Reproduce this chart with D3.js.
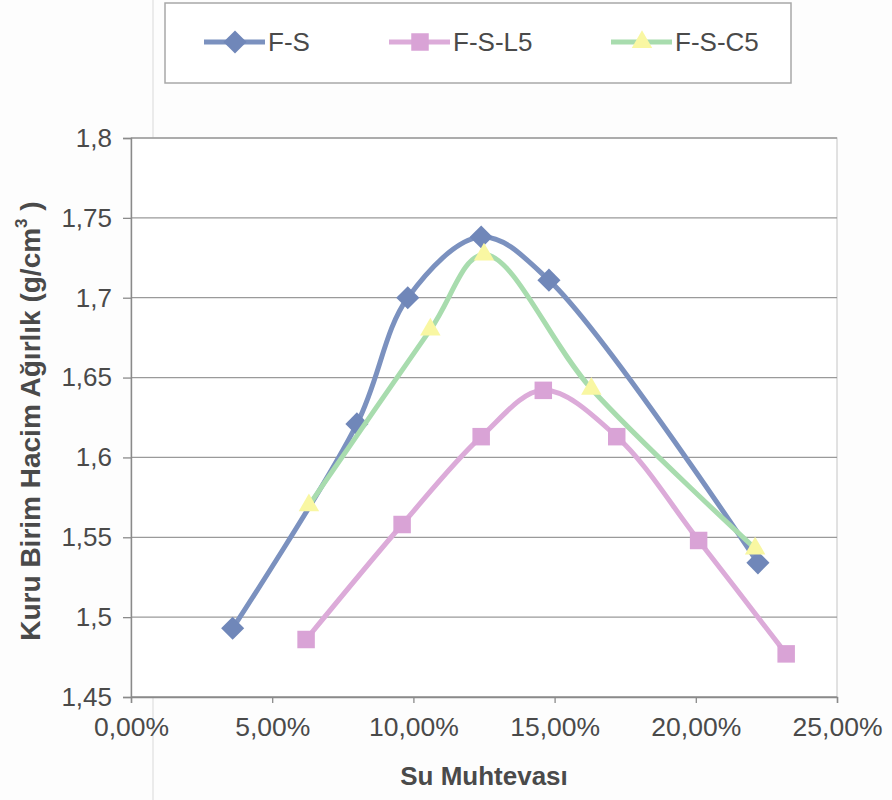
<!DOCTYPE html>
<html>
<head>
<meta charset="utf-8">
<script src="https://cdn.jsdelivr.net/npm/d3@7"></script>
<style>
  html, body { margin: 0; padding: 0; background: #fdfdfd; }
  svg { display: block; }
  text { font-family: "Liberation Sans", Arial, sans-serif; }
</style>
</head>
<body>
<svg id="chart" width="892" height="800"></svg>
<script>
// Compaction curves: dry unit weight vs. water content
const seriesNames = ["F-S", "F-S-L5", "F-S-C5"];
const fsWater   = [0.036, 0.080, 0.098, 0.124, 0.148, 0.222];
const fsDensity = [1.493, 1.621, 1.700, 1.738, 1.711, 1.534];
const l5Water   = [0.062, 0.096, 0.124, 0.146, 0.172, 0.201, 0.232];
const l5Density = [1.486, 1.558, 1.613, 1.642, 1.613, 1.548, 1.477];
const c5Water   = [0.063, 0.106, 0.125, 0.163, 0.221];
const c5Density = [1.570, 1.680, 1.727, 1.643, 1.543];
const xTicks = [0, 0.05, 0.10, 0.15, 0.20, 0.25];
const yTicks = [1.45, 1.5, 1.55, 1.6, 1.65, 1.7, 1.75, 1.8];
const xTitle = "Su Muhtevası";
const yTitle = "Kuru Birim Hacim Ağırlık (g/cm";

const styles = [
  { line: "#7b91bf", fill: "#7087b9", marker: "diamond" },
  { line: "#dcabd9", fill: "#d9a3d6", marker: "square" },
  { line: "#a8dcae", fill: "#f9f7a2", marker: "triangle" }
];

const svg = d3.select("#chart");
const plot = { left: 131, right: 837, top: 138, bottom: 697 };

const x = d3.scaleLinear().domain([0, 0.25]).range([plot.left, plot.right]);
const y = d3.scaleLinear().domain([1.45, 1.8]).range([plot.bottom, plot.top]);

const commaNum = v => String(v).replace(".", ",");
const pctFmt = v => (v * 100).toFixed(2).replace(".", ",") + "%";

// faint vertical crease across the page
svg.append("line")
  .attr("x1", 153).attr("x2", 153).attr("y1", 0).attr("y2", 800)
  .attr("stroke", "#e4e4e4").attr("stroke-width", 1.5);

// plot area
svg.append("rect")
  .attr("x", plot.left).attr("y", plot.top)
  .attr("width", plot.right - plot.left).attr("height", plot.bottom - plot.top)
  .attr("fill", "#ffffff").attr("stroke", "#cfcfcf").attr("stroke-width", 1.2);

// horizontal gridlines
svg.append("g")
  .selectAll("line")
  .data(yTicks)
  .join("line")
  .attr("x1", plot.left).attr("x2", plot.right)
  .attr("y1", d => y(d)).attr("y2", d => y(d))
  .attr("stroke", "#9a9a9a").attr("stroke-width", 1.3);

// y axis
const yAxis = svg.append("g")
  .attr("transform", `translate(${plot.left},0)`)
  .call(d3.axisLeft(y).tickValues(yTicks).tickFormat(commaNum).tickSize(8).tickPadding(11));
yAxis.select(".domain").attr("stroke", "#8a8a8a").attr("stroke-width", 1.4);
yAxis.selectAll(".tick line").attr("stroke", "#8a8a8a").attr("stroke-width", 1.3);
yAxis.selectAll(".tick text")
  .attr("font-size", 26).attr("fill", "#4a4a4a")
  .attr("font-family", "Liberation Sans, Arial, sans-serif");

// x axis
const xAxis = svg.append("g")
  .attr("transform", `translate(0,${plot.bottom})`)
  .call(d3.axisBottom(x).tickValues(xTicks).tickFormat(pctFmt).tickSize(6).tickPadding(14));
xAxis.select(".domain").attr("stroke", "#8a8a8a").attr("stroke-width", 1.4);
xAxis.selectAll(".tick line").attr("stroke", "#8a8a8a").attr("stroke-width", 1.3);
xAxis.selectAll(".tick text")
  .attr("font-size", 26.5).attr("fill", "#4a4a4a")
  .attr("font-family", "Liberation Sans, Arial, sans-serif");

// axis titles
svg.append("text")
  .attr("x", (plot.left + plot.right) / 2).attr("y", 785)
  .attr("text-anchor", "middle")
  .attr("font-size", 26).attr("font-weight", "bold").attr("fill", "#4a4a4a")
  .text(xTitle);

const yt = svg.append("text")
  .attr("transform", "translate(40,421) rotate(-90)")
  .attr("text-anchor", "middle")
  .attr("font-size", 28).attr("font-weight", "bold").attr("fill", "#4a4a4a");
yt.append("tspan").text(yTitle);
yt.append("tspan").attr("dy", -13).attr("font-size", 17).text("3");
yt.append("tspan").attr("dy", 13).text(" )");

// marker shapes
const symbolFor = {
  diamond: d3.symbol().type(d3.symbolDiamond2).size(340),
  square: d3.symbol().type(d3.symbolSquare2).size(390),
  triangle: d3.symbol().type(d3.symbolTriangle2).size(300)
};

const series = [
  { name: seriesNames[0], xs: fsWater, ys: fsDensity, s: styles[0] },
  { name: seriesNames[1], xs: l5Water, ys: l5Density, s: styles[1] },
  { name: seriesNames[2], xs: c5Water, ys: c5Density, s: styles[2] }
];

const line = d3.line()
  .x(d => x(d[0])).y(d => y(d[1]))
  .curve(d3.curveCatmullRom.alpha(0.5));

series.forEach(ser => {
  const pts = ser.xs.map((v, i) => [v, ser.ys[i]]);
  const g = svg.append("g");
  g.append("path")
    .datum(pts)
    .attr("d", line)
    .attr("fill", "none")
    .attr("stroke", ser.s.line)
    .attr("stroke-width", 5)
    .attr("stroke-linejoin", "round");
  g.selectAll("path.mk")
    .data(pts)
    .join("path")
    .attr("class", "mk")
    .attr("transform", d => `translate(${x(d[0])},${y(d[1])})`)
    .attr("d", symbolFor[ser.s.marker])
    .attr("fill", ser.s.fill);
});

// legend
const legend = svg.append("g");
legend.append("rect")
  .attr("x", 165).attr("y", 3).attr("width", 626).attr("height", 80)
  .attr("fill", "#ffffff").attr("stroke", "#a8a8a8").attr("stroke-width", 1.5);

const legendX = [204, 389, 611];
series.forEach((ser, i) => {
  const lx = legendX[i];
  const ly = 42;
  legend.append("line")
    .attr("x1", lx).attr("x2", lx + 61).attr("y1", ly).attr("y2", ly)
    .attr("stroke", ser.s.line).attr("stroke-width", 5);
  legend.append("path")
    .attr("transform", `translate(${lx + 31},${ly})`)
    .attr("d", symbolFor[ser.s.marker])
    .attr("fill", ser.s.fill);
  legend.append("text")
    .attr("x", lx + 64).attr("y", ly + 9)
    .attr("font-size", 26).attr("fill", "#4a4a4a")
    .text(ser.name);
});
</script>
</body>
</html>
